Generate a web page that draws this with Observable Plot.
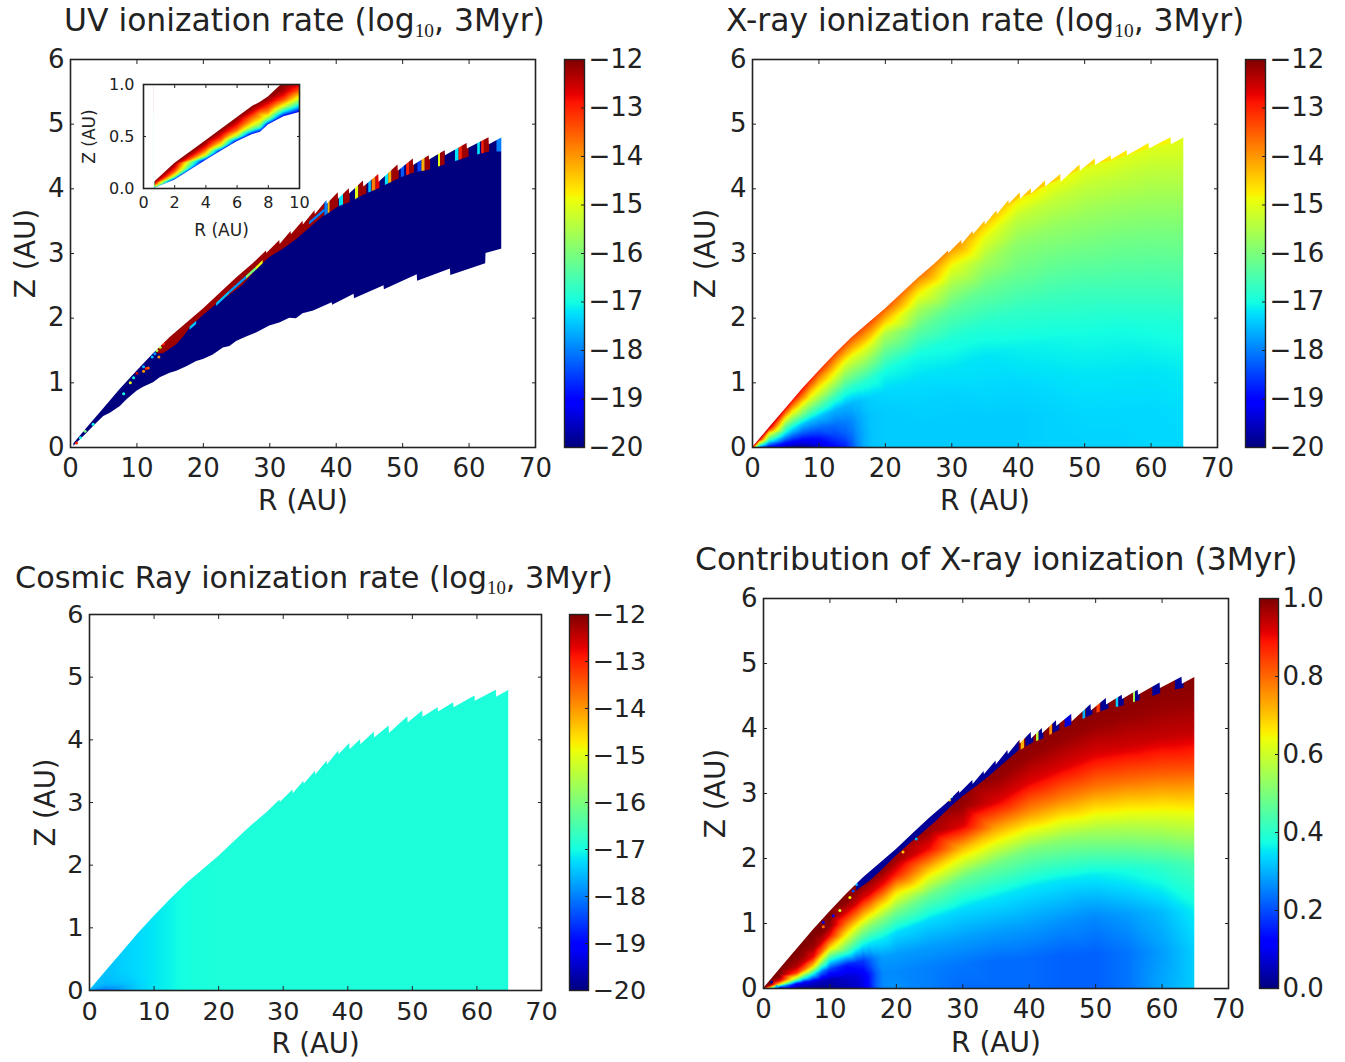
<!DOCTYPE html>
<html><head><meta charset="utf-8">
<style>
html,body{margin:0;padding:0;background:#fff}
#page{position:relative;width:1345px;height:1062px;overflow:hidden;font-family:"DejaVu Sans";color:#222}
#page svg{position:absolute;background:transparent!important}
.title{position:absolute;white-space:nowrap;line-height:1}
.title sub{font-family:"Liberation Serif";font-size:.62em;vertical-align:-.32em;line-height:0}
</style>
<script src="https://cdn.jsdelivr.net/npm/d3@7"></script>
<script src="https://cdn.jsdelivr.net/npm/@observablehq/plot@0.6"></script>
</head><body><div id="page"></div>
<script>
// ---------- data ----------
const rTicks=[0,10,20,30,40,50,60,70];
const zTicks=[0,1,2,3,4,5,6];
const logTicks=[-20,-19,-18,-17,-16,-15,-14,-13,-12];
const fracTicks=[0,.2,.4,.6,.8,1];
const insetRTicks=[0,2,4,6,8,10];
const insetZTicks=[0,.5,1];
const diskEdgeR=65;

// upper edge of the disk, with its saw teeth
const topR=[0,.7,2.5,5,7.5,10,12.5,15,17.5,20,22.5,25,27.5,29.5,29.55,31.5,31.55,33.2,33.25,35,35.05,36.8,36.85,38.6,38.65,40.3,40.35,41.97,42.02,44.1,44.15,46.4,46.45,49.3,49.35,51.6,51.65,54,54.05,56.4,56.45,59.7,59.75,63,63.05,65];
const topZ=[0,.08,.3,.6,.9,1.18,1.45,1.7,1.92,2.14,2.38,2.62,2.84,3.04,3,3.2,3.14,3.34,3.29,3.5,3.44,3.66,3.6,3.82,3.76,3.94,3.84,4,3.92,4.12,4.03,4.22,4.1,4.37,4.27,4.46,4.36,4.51,4.445,4.59,4.51,4.7,4.615,4.79,4.68,4.79];
const peakR=[0,.7,2.5,5,7.5,10,12.5,15,17.5,20,22.5,25,27.5,29.5,31.5,33.2,35,36.8,38.6,40.3,41.97,44.1,46.4,49.3,51.6,54,56.4,59.7,63,65];
const peakZ=[0,.08,.3,.6,.9,1.18,1.45,1.7,1.92,2.14,2.38,2.62,2.84,3.04,3.2,3.34,3.5,3.66,3.82,3.94,4,4.12,4.22,4.37,4.46,4.51,4.59,4.7,4.79,4.79];
// lower edge of the UV layer
const uvLowR=[.5,1.5,2.5,3.5,5,6,7.5,8.5,10,11,12.5,13.5,15,16,17.5,19,20,21.5,23,24,25,26.5,28,30,31.6,33,34,35,36.6,39.4,39.45,42.7,42.75,47.2,47.25,52.2,52.25,57.2,57.25,62.5,62.55,65];
const uvLowZ=[.02,.12,.22,.33,.48,.53,.635,.74,.87,.93,1,1.08,1.15,1.18,1.25,1.33,1.36,1.43,1.54,1.56,1.64,1.71,1.77,1.88,1.93,2,1.99,2.07,2.11,2.24,2.2,2.37,2.3,2.5,2.44,2.67,2.57,2.76,2.66,2.84,3,3.07];

// sample grid: columns in R, rows as a share of the local disk height
const gridR=[.3,1,2.5,5,6,7.5,8.75,10,12.5,14,15,16,17,18,20,25,30,35,40,45,50,55,60,65];
const gridTop=[.04,.12,.3,.6,.72,.88,1.03,1.17,1.45,1.6,1.7,1.78,1.87,1.95,2.14,2.62,3.05,3.5,3.88,4.15,4.4,4.55,4.72,4.8];
const gridFrac=[0,.12,.25,.4,.55,.7,.82,.92,1.04];

const xrayField=[
[-16,-15.5,-15,-14.5,-14,-13.5,-13,-12.8,-12.5],
[-18,-17.5,-16.8,-16,-15.2,-14.6,-13.8,-13,-12.4],
[-19.3,-18.4,-17.6,-16.6,-15.8,-15,-14.2,-13.2,-12.4],
[-19.7,-18.9,-18,-17,-16.2,-15.2,-14.3,-13.5,-12.6],
[-19.8,-19,-18.15,-17.25,-16.25,-15.25,-14.35,-13.55,-12.7],
[-19.9,-19.1,-18.3,-17.5,-16.3,-15.3,-14.4,-13.6,-12.8],
[-19.7,-19,-18.25,-17.5,-16.35,-15.3,-14.5,-13.75,-12.9],
[-19.5,-18.9,-18.2,-17.5,-16.4,-15.3,-14.6,-13.9,-13],
[-19,-18.5,-18.1,-17.6,-16.6,-15.5,-14.7,-14,-13.1],
[-18.8,-18.3,-18,-17.6,-16.8,-15.8,-15,-14.1,-13.1],
[-18.4,-18.1,-17.9,-17.55,-16.8,-15.8,-15,-14.1,-13.1],
[-17.9,-17.8,-17.7,-17.5,-16.8,-15.8,-15,-14.1,-13.1],
[-17.6,-17.6,-17.55,-17.4,-16.8,-15.8,-15,-14.1,-13.1],
[-17.45,-17.45,-17.45,-17.35,-16.85,-15.9,-15.1,-14.2,-13.1],
[-17.4,-17.4,-17.4,-17.3,-17,-16.2,-15.5,-14.4,-13.2],
[-17.4,-17.4,-17.35,-17.25,-17,-16.25,-15.55,-14.7,-13.4],
[-17.4,-17.4,-17.35,-17.2,-16.9,-16.3,-15.6,-14.9,-13.7],
[-17.4,-17.4,-17.3,-17.2,-16.8,-16.2,-15.6,-15,-14],
[-17.4,-17.4,-17.3,-17.1,-16.7,-16.15,-15.8,-15.3,-14.3],
[-17.35,-17.35,-17.25,-17.05,-16.65,-16.15,-15.75,-15.3,-14.5],
[-17.35,-17.3,-17.2,-17,-16.6,-16.1,-15.7,-15.3,-14.7],
[-17.35,-17.3,-17.2,-17,-16.55,-16.1,-15.7,-15.3,-14.75],
[-17.3,-17.3,-17.2,-16.95,-16.5,-16.05,-15.65,-15.3,-14.8],
[-17.3,-17.25,-17.15,-16.9,-16.45,-16,-15.6,-15.25,-14.85]];
const xrayTeeth=[[38.6,40.3,-14.4],[40.3,41.97,-14.4],[41.97,44.1,-14.45],[44.1,46.4,-14.5],[46.4,49.3,-14.55],[49.3,51.6,-14.6],[51.6,54,-14.65],[54,56.4,-14.7],[56.4,59.7,-14.75],[59.7,63,-14.8]];

const cosmicField=[
[-18.5,-18,-17.7,-17.6,-17.55,-17.5,-17.5,-17.5,-17.5],
[-18.4,-18,-17.7,-17.6,-17.55,-17.5,-17.5,-17.5,-17.5],
[-18.2,-17.9,-17.65,-17.55,-17.5,-17.5,-17.5,-17.5,-17.5],
[-17.8,-17.6,-17.45,-17.4,-17.36,-17.36,-17.36,-17.36,-17.36],
[-17.6,-17.5,-17.4,-17.35,-17.33,-17.33,-17.33,-17.33,-17.33],
[-17.4,-17.35,-17.3,-17.28,-17.28,-17.28,-17.28,-17.28,-17.28],
[-17.3,-17.26,-17.24,-17.23,-17.23,-17.23,-17.23,-17.23,-17.23],
[-17.2,-17.18,-17.18,-17.18,-17.18,-17.18,-17.18,-17.18,-17.18],
[-17.08,-17.08,-17.08,-17.08,-17.08,-17.08,-17.08,-17.08,-17.08],
[-17,-17,-17,-17,-17,-17,-17,-17,-17],
[-16.98,-16.98,-16.98,-16.98,-16.98,-16.98,-16.98,-16.98,-16.98],
[-16.96,-16.96,-16.96,-16.96,-16.96,-16.96,-16.96,-16.96,-16.96],
[-16.94,-16.94,-16.94,-16.94,-16.94,-16.94,-16.94,-16.94,-16.94],
[-16.94,-16.94,-16.94,-16.94,-16.94,-16.94,-16.94,-16.94,-16.94],
[-16.92,-16.92,-16.92,-16.92,-16.92,-16.92,-16.92,-16.92,-16.92],
[-16.92,-16.92,-16.92,-16.92,-16.92,-16.92,-16.92,-16.92,-16.92],
[-16.92,-16.92,-16.92,-16.92,-16.92,-16.92,-16.92,-16.92,-16.92],
[-16.92,-16.92,-16.92,-16.92,-16.92,-16.92,-16.92,-16.92,-16.92],
[-16.92,-16.92,-16.92,-16.92,-16.92,-16.92,-16.92,-16.92,-16.92],
[-16.92,-16.92,-16.92,-16.92,-16.92,-16.92,-16.92,-16.92,-16.92],
[-16.92,-16.92,-16.92,-16.92,-16.92,-16.92,-16.92,-16.92,-16.92],
[-16.92,-16.92,-16.92,-16.92,-16.92,-16.92,-16.92,-16.92,-16.92],
[-16.92,-16.92,-16.92,-16.92,-16.92,-16.92,-16.92,-16.92,-16.92],
[-16.92,-16.92,-16.92,-16.92,-16.92,-16.92,-16.92,-16.92,-16.92]];

const shareField=[
[.6,.8,.9,1,1,1,1,1,1],
[.3,.6,.85,.95,1,1,1,1,1],
[.05,.3,.7,.9,.97,.99,1,1,1],
[.01,.12,.55,.85,.95,.98,.99,1,1],
[.01,.1,.45,.8,.93,.98,.99,1,1],
[.01,.08,.36,.7,.9,.97,.99,1,1],
[.01,.06,.24,.55,.8,.94,.99,1,1],
[.02,.05,.18,.42,.7,.9,.98,1,1],
[.04,.07,.15,.45,.63,.8,.93,.99,1],
[.06,.08,.17,.4,.58,.78,.93,.98,1],
[.08,.1,.18,.37,.55,.76,.92,.98,1],
[.14,.15,.22,.36,.53,.75,.92,.98,1],
[.22,.22,.26,.36,.52,.73,.91,.98,1],
[.26,.26,.28,.36,.51,.72,.9,.98,1],
[.27,.26,.28,.34,.49,.68,.88,.97,1],
[.25,.25,.28,.34,.48,.7,.9,.97,1],
[.23,.24,.28,.34,.47,.7,.92,.98,1],
[.23,.23,.28,.35,.49,.73,.92,.98,1],
[.23,.23,.28,.35,.5,.76,.92,.98,1],
[.22,.22,.27,.35,.52,.77,.92,.98,1],
[.22,.22,.26,.36,.55,.78,.92,.98,1],
[.24,.24,.28,.38,.57,.79,.93,.98,1],
[.29,.28,.31,.41,.6,.81,.94,.98,1],
[.33,.33,.36,.44,.62,.82,.94,.98,1]];

// UV layer details on the disk surface: [R from, R to, value]
const uvTeeth=[[38.3,38.8,-18],[38.8,39.1,-14.3],[39.1,40.4,-12.2],[40.5,41.1,-17.2],[41.1,42.1,-12.2],[42.9,43.4,-15],[43.4,44.6,-12.2],[44.9,45.3,-17.5],[45.4,46,-13.8],[46,46.6,-12.7],[47.4,47.9,-17.2],[47.9,48.4,-14.2],[48.4,49.5,-12.2],[49.8,50.3,-18.3],[50.6,51.1,-13],[51.1,51.8,-12.2],[52.3,52.9,-18.5],[52.9,53.4,-14.2],[53.4,54.2,-12.2],[55.4,55.7,-15],[55.7,56.4,-12.2],[57.95,58.5,-17.2],[58.5,59,-13],[59,60,-12.2],[61.3,61.7,-17.2],[61.9,62.3,-13],[62.3,63.1,-12.2],[64.2,65,-18]];
const stripR=[13,14,15,16,17,18,20,22,24,26,28,30,32,34,36,38.3];
const stripDepth=[.05,.15,.18,.2,.17,.12,.1,.12,.17,.2,.14,.14,.18,.2,.2,.2];
const uvStreaks=[[18,19,-17.5],[22,24,-17.5],[24,26.5,-17.8],[26.5,28,-16],[28,29,-15],[36,38.3,-18]];
const uvSpecksR=[.9,1.5,2.2,3.4,8,9,9.5,10,11,11.4,11.7,11,12.3,12.7,13,13.3,13.5,14];
const uvSpecksZ=[.07,.15,.25,.36,.83,1,1.08,1.15,1.25,1.22,1.23,1.18,1.4,1.45,1.5,1.4,1.55,1.6];
const uvSpecksV=[-13,-17,-16,-17,-17,-15,-17,-12.5,-17.5,-13,-13.5,-14,-17.5,-17.8,-15.5,-14,-15.5,-13];
const shareTeeth=[[38.8,39.3,.72],[39.5,40.7,.02],[41.1,41.5,.58],[41.5,42.2,.02],[43.1,43.5,.75],[43.6,44.6,.02],[45.4,46.4,.08],[48.1,48.5,.3],[48.6,49.6,.02],[50.2,50.7,.85],[50.8,52,.02],[53.1,53.5,.33],[53.5,54.3,.02],[55.7,56,.55],[56,56.7,.02],[58.6,59.8,.02],[62,63.3,.02]];
const shareStripR=[14,16,18,20,22,24,26,28,30,32,34,36,38.5];
const shareStripDepth=[.1,.14,.13,.1,.11,.13,.14,.12,.13,.14,.15,.15,.15];
const shareSpecksR=[1.2,2,9,9,10.5,11.5,13,13.5,14,21,23,28,28.3];
const shareSpecksZ=[.1,.03,.95,1.02,1.12,1.2,1.4,1.5,1.6,2.1,2.3,2.9,2.95];
const shareSpecksV=[.02,.3,.8,.1,.1,.6,.65,.2,.3,.7,.3,.7,.3];

// inset of the UV panel
const insetR=[.7,2,4,5,6,7,7.5,8,9,10];
const insetLow=[0,.08,.27,.36,.45,.52,.54,.61,.69,.73];
const insetHigh=[.06,.24,.46,.57,.68,.79,.83,.88,1.02,1.16];
const insetFrac=[0,.1,.2,.3,.4,.5,.6,.7,.85,1];
const insetField=[
[-19,-17,-16,-15,-14.5,-14,-13,-13,-12.6,-12.3],
[-19.5,-17.8,-16,-15,-14.3,-13.7,-13.2,-12.9,-12.4,-12.1],
[-19.5,-17.8,-16,-15,-14.4,-13.8,-13.3,-12.9,-12.4,-12.1],
[-19.5,-17.8,-16,-15,-14.3,-13.7,-13.2,-12.9,-12.4,-12.1],
[-19.5,-17.8,-16,-15,-14.3,-13.6,-13.2,-12.9,-12.4,-12.1],
[-19.5,-17.8,-16.2,-15.3,-14.6,-14.1,-13.7,-13.2,-12.5,-12.1],
[-19.5,-17.8,-16.3,-15.5,-14.8,-14.3,-14.2,-13.5,-12.6,-12.1],
[-19.5,-17.8,-16.2,-15.2,-14.4,-13.8,-13.4,-13,-12.4,-12.1],
[-19.5,-17.9,-16.5,-15.2,-14.3,-13.4,-12.9,-12.5,-12.2,-12.1],
[-19.5,-18,-16.6,-15.3,-14.4,-13.4,-12.8,-12.5,-12.2,-12.1]];

// ---------- jet colour map ----------
const jetAt=[0,.11,.125,.34,.35,.375,.64,.65,.66,.89,.91,1];
const jetColors=["#00007f","#0000ff","#0000ff","#00dbff","#00e5f7","#14ffe2","#eeff08","#f7f500","#ffec00","#ff1300","#e80000","#7f0000"];
const jet=(lo,hi)=>({type:"linear",domain:jetAt.map(t=>lo+(hi-lo)*t),range:jetColors,interpolate:"rgb",clamp:true});

// ---------- helpers ----------
const page=document.getElementById("page");
const ink="#222";
const table=(xs,ys)=>xs.map((R,i)=>({R,Z:ys[i]}));
const topEdge=table(topR,topZ).concat({R:diskEdgeR+.3,Z:topZ[topZ.length-1]});
const zPeak=d3.scaleLinear(peakR,peakZ).clamp(true);
const place=(node,x,y)=>{node.style.left=x+"px";node.style.top=y+"px";node.style.position="absolute";page.appendChild(node)};
const gridPoints=(field)=>gridR.flatMap((R,i)=>gridFrac.map((f,j)=>({R,Z:gridTop[i]*f,v:field[i][j]})));
const fieldMark=(field)=>Plot.raster(gridPoints(field),{x:"R",y:"Z",fill:"v",interpolate:"barycentric",pixelSize:1});
const above=.2;
const blocks=(list,depth)=>Plot.areaY(list.flatMap(([a,b,v],i)=>[a,b].map(R=>({i,R,v,lo:zPeak(R)-depth,hi:zPeak(R)+above}))),{x:"R",y1:"lo",y2:"hi",z:"i",fill:"v"});
const streaks=(list,depth,thick)=>Plot.areaY(list.flatMap(([a,b,v],i)=>[a,b].map(R=>({i,R,v,lo:zPeak(R)-depth-thick,hi:zPeak(R)-depth}))),{x:"R",y1:"lo",y2:"hi",z:"i",fill:"v"});
const strip=(rs,ds,v)=>Plot.areaY(rs.map((R,i)=>({R,lo:zPeak(R)-ds[i],hi:zPeak(R)+above})),{x:"R",y1:"lo",y2:"hi",fill:()=>v});
const specks=(rs,zs,vs)=>Plot.dot(rs.map((R,i)=>({R,Z:zs[i],v:vs[i]})),{x:"R",y:"Z",fill:"v",r:1.5,stroke:null});
const masks=()=>[
  Plot.areaY(topEdge,{x:"R",y1:"Z",y2:()=>6,fill:"white"}),
  Plot.rect([diskEdgeR],{x1:d=>d,x2:()=>70,y1:()=>0,y2:()=>6,fill:"white",stroke:"white",strokeWidth:.8})
];
const axes=(xT,yT,o)=>[
  Plot.frame({stroke:ink,strokeWidth:1.6}),
  Plot.axisX({anchor:"top",ticks:xT,tickSize:o.tick,text:null,label:null,stroke:ink}),
  Plot.axisY({anchor:"right",ticks:yT,tickSize:o.tick,text:null,label:null,stroke:ink}),
  Plot.axisX({anchor:"bottom",ticks:xT,tickSize:o.tick,tickPadding:o.xPad,tickFormat:o.xFmt,label:null,stroke:ink,fill:ink,fontSize:o.fs}),
  Plot.axisY({anchor:"left",ticks:yT,tickSize:o.tick,tickPadding:o.yPad,tickFormat:o.yFmt,label:null,stroke:ink,fill:ink,fontSize:o.fs}),
  Plot.axisX({anchor:"bottom",ticks:[],tickSize:0,label:"R (AU)",labelAnchor:"center",labelArrow:"none",labelOffset:o.xOff,fill:ink,fontSize:o.ls}),
  Plot.axisY({anchor:"left",ticks:[],tickSize:0,label:"Z (AU)",labelAnchor:"center",labelArrow:"none",labelOffset:o.yOff,fill:ink,fontSize:o.ls})
];
const minus=d=>String(d).replace("-","\u2212");
const intFmt=d=>String(d);

function panel(p,marks,colorDomain){
  const ml=62,mt=12,mr=20,mb=72;
  const plot=Plot.plot({
    width:p.w+ml+mr,height:p.h+mt+mb,marginLeft:ml,marginTop:mt,marginRight:mr,marginBottom:mb,
    style:{fontFamily:"DejaVu Sans",fontSize:p.fs+"px",background:"transparent",overflow:"visible"},
    x:{domain:[0,70]},y:{domain:[0,6]},
    color:jet(...colorDomain),
    marks:[...marks,...axes(rTicks,zTicks,{tick:-4,xPad:15,yPad:10,xFmt:intFmt,yFmt:intFmt,fs:p.fs,ls:p.ls,xOff:p.xOff,yOff:p.yOff})]
  });
  place(plot,p.x-ml,p.y-mt);
}
function colorbar(b,lo,hi,ticks,fmt){
  const mt=16,mb=16,ml=2,mr=70;
  const plot=Plot.plot({
    width:b.w+ml+mr,height:b.h+mt+mb,marginLeft:ml,marginTop:mt,marginRight:mr,marginBottom:mb,
    style:{fontFamily:"DejaVu Sans",fontSize:b.fs+"px",background:"transparent",overflow:"visible"},
    x:{domain:[0,1],axis:null},y:{domain:[lo,hi],axis:null},
    color:jet(lo,hi),
    marks:[
      Plot.raster({fill:(x,y)=>y,x1:0,x2:1,y1:lo,y2:hi,pixelSize:1}),
      Plot.frame({stroke:ink,strokeWidth:1.4}),
      Plot.axisY({anchor:"right",ticks,tickSize:-4,tickPadding:b.pad,tickFormat:fmt,label:null,stroke:ink,fill:ink,fontSize:b.fs})
    ]
  });
  place(plot,b.x-ml,b.y-mt);
}
function title(html,x,y,fs){
  const d=document.createElement("div");d.className="title";d.innerHTML=html;
  d.style.left=x+"px";d.style.top=y+"px";d.style.fontSize=fs+"px";page.appendChild(d);
}

// ---------- panels ----------
const P1={x:70,y:59,w:465,h:388,fs:26,ls:28,xOff:62,yOff:55};
const P2={x:752,y:59,w:465,h:388,fs:26,ls:28,xOff:62,yOff:57};
const P3={x:89,y:614,w:452,h:376,fs:25.5,ls:27.5,xOff:62,yOff:54};
const P4={x:763,y:598,w:465,h:390,fs:26,ls:28,xOff:63,yOff:58};

panel(P1,[
  Plot.areaY(table(uvLowR,uvLowZ),{x:"R",y1:"Z",y2:()=>6,fill:()=>-20}),
  strip(stripR,stripDepth,-12.2),
  streaks(uvStreaks,.1,.05),
  blocks(uvTeeth,.22),
  specks(uvSpecksR,uvSpecksZ,uvSpecksV),
  ...masks()
],[-20,-12]);
panel(P2,[fieldMark(xrayField),blocks(xrayTeeth,.08),...masks()],[-20,-12]);
panel(P3,[fieldMark(cosmicField),...masks()],[-20,-12]);
panel(P4,[
  fieldMark(shareField),
  strip(shareStripR,shareStripDepth,.02),
  blocks(shareTeeth,.17),
  specks(shareSpecksR,shareSpecksZ,shareSpecksV),
  ...masks()
],[0,1]);

// inset
(function(){
  const W=156,H=104,ml=60,mt=10,mr=14,mb=60,fs=16;
  const pts=insetR.flatMap((R,i)=>insetFrac.map((f,j)=>({R,Z:insetLow[i]+(insetHigh[i]-insetLow[i])*f,v:insetField[i][j]})));
  const plot=Plot.plot({
    width:W+ml+mr,height:H+mt+mb,marginLeft:ml,marginTop:mt,marginRight:mr,marginBottom:mb,
    style:{fontFamily:"DejaVu Sans",fontSize:fs+"px",background:"transparent",overflow:"visible"},
    x:{domain:[0,10]},y:{domain:[0,1]},color:jet(-20,-12),
    marks:[
      Plot.raster(pts,{x:"R",y:"Z",fill:"v",interpolate:"barycentric",pixelSize:1}),
      Plot.areaY(table(insetR,insetHigh),{x:"R",y1:"Z",y2:()=>1.3,fill:"white",clip:true}),
      Plot.areaY(table(insetR,insetLow),{x:"R",y1:"Z",y2:()=>0,fill:"white",clip:true}),
      Plot.rect([0],{x1:d=>d,x2:()=>insetR[0],y1:()=>0,y2:()=>1,fill:"white"}),
      ...axes(insetRTicks,insetZTicks,{tick:-3,xPad:11,yPad:12,xFmt:intFmt,yFmt:d3.format(".1f"),fs,ls:17,xOff:47,yOff:61})
    ]
  });
  place(plot,143-ml,84-mt);
})();

// ---------- colour bars ----------
colorbar({x:564,y:59,w:20,h:388,fs:26,pad:8},-20,-12,logTicks,minus);
colorbar({x:1245,y:59,w:20,h:388,fs:26,pad:8},-20,-12,logTicks,minus);
colorbar({x:569,y:614,w:19,h:376,fs:25.5,pad:8},-20,-12,logTicks,minus);
colorbar({x:1259,y:598,w:19,h:390,fs:26,pad:8},0,1,fracTicks,d3.format(".1f"));

// ---------- titles ----------
const logTitle=(name)=>`${name} ionization rate (log<sub>10</sub>, 3Myr)`;
title(logTitle("UV"),64,5,31.4);
title(logTitle("X-ray"),726,5,31.4);
title(logTitle("Cosmic Ray"),15,563,30.3);
title("Contribution of X-ray ionization (3Myr)",695,544,31.4);
</script></body></html>
